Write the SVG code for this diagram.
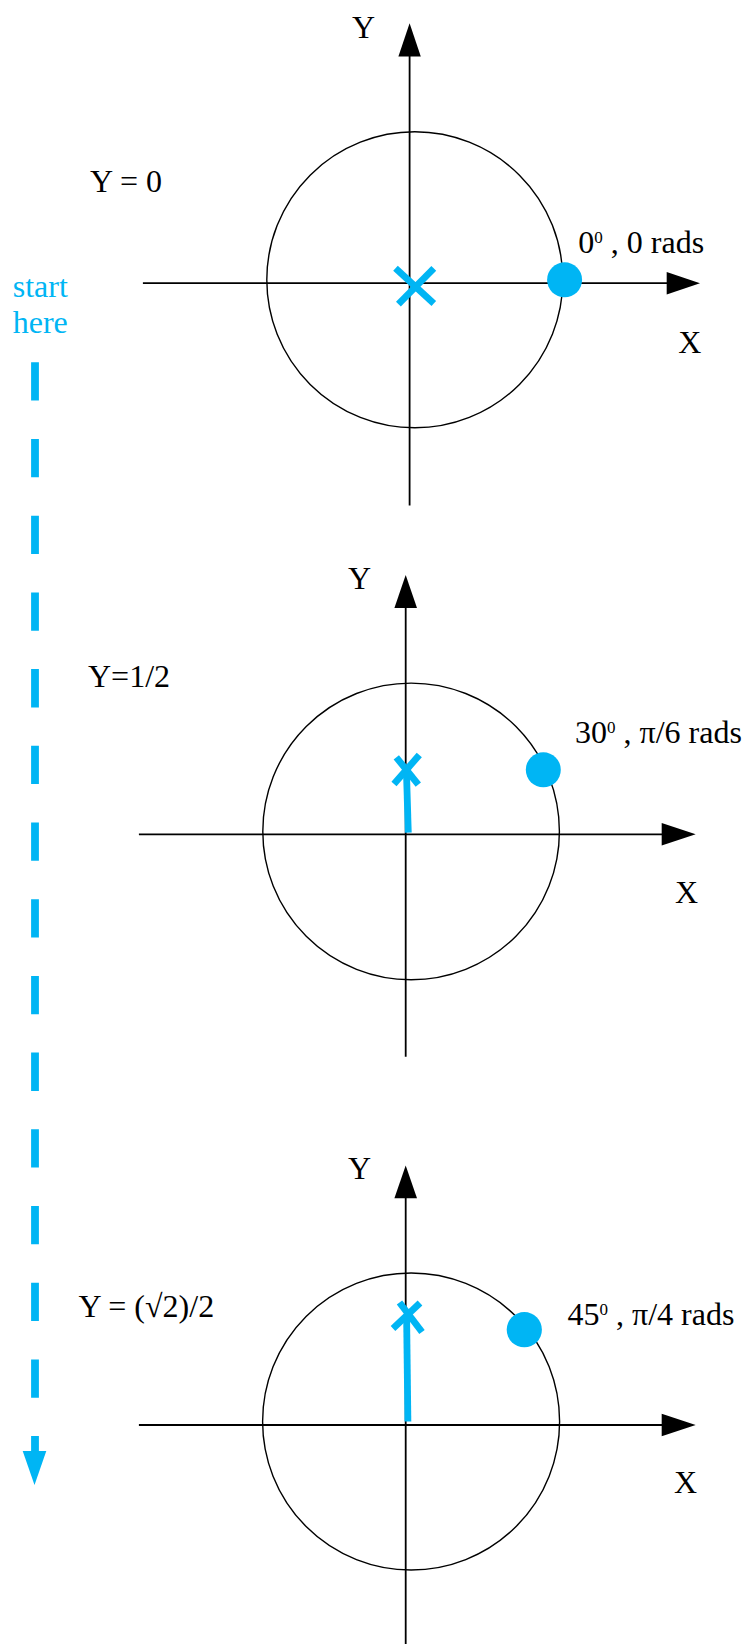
<svg xmlns="http://www.w3.org/2000/svg" width="746" height="1644" viewBox="0 0 746 1644">
<style>
  .t { font-family: "Liberation Serif", "Times New Roman", serif; font-size: 32px; fill: #000; }
  .tb { font-family: "Liberation Serif", "Times New Roman", serif; font-size: 32px; fill: #00B5F4; }
  .sup { font-size: 17px; }
  .axis { stroke: #000; stroke-width: 1.8; fill: none; }
  .circ { stroke: #000; stroke-width: 1.4; fill: none; }
  .head { fill: #000; stroke: none; }
  .mark { stroke: #00B5F4; stroke-width: 6.8; fill: none; stroke-linecap: butt; }
  .dot { fill: #00B5F4; stroke: none; }
</style>
<rect x="0" y="0" width="746" height="1644" fill="#fff"/>

<g id="panel1">
  <circle class="circ" cx="414.8" cy="279.8" r="148"/>
  <line class="axis" x1="409.6" y1="505.4" x2="409.6" y2="56"/>
  <polygon class="head" points="409.6,23.2 398.4,56.4 420.8,56.4"/>
  <line class="axis" x1="142.9" y1="283.2" x2="667" y2="283.2"/>
  <polygon class="head" points="700,283.2 666.7,271.9 666.7,294.5"/>
  <line class="mark" x1="395.5" y1="268.2" x2="433.8" y2="303.4"/>
  <line class="mark" x1="433.8" y1="268.4" x2="398.4" y2="304.1"/>
  <circle class="dot" cx="564.6" cy="279.8" r="17.5"/>
  <text class="t" x="352" y="37.5">Y</text>
  <text class="t" x="90" y="191.7">Y = 0</text>
  <text class="t" x="578.3" y="253.3">0<tspan class="sup" dy="-10">0</tspan><tspan dy="10"> , 0 rads</tspan></text>
  <text class="t" x="678.3" y="353.3">X</text>
</g>

<g id="panel2">
  <circle class="circ" cx="411.1" cy="831.4" r="148.3"/>
  <line class="axis" x1="405.7" y1="1056.8" x2="405.7" y2="607.5"/>
  <polygon class="head" points="405.7,575 394.4,607.9 417,607.9"/>
  <line class="axis" x1="138.9" y1="834.3" x2="662" y2="834.3"/>
  <polygon class="head" points="695.7,834.3 661.7,823 661.7,845.6"/>
  <line class="mark" x1="406.4" y1="770" x2="408.3" y2="832.7"/>
  <line class="mark" x1="396.3" y1="757.3" x2="418.3" y2="784.7"/>
  <line class="mark" x1="419.3" y1="755" x2="394" y2="784"/>
  <circle class="dot" cx="543.3" cy="769.8" r="17.5"/>
  <text class="t" x="348" y="588.9">Y</text>
  <text class="t" x="88" y="686.7">Y=1/2</text>
  <text class="t" x="575" y="743.3">30<tspan class="sup" dy="-10">0</tspan><tspan dy="10"> , π/6 rads</tspan></text>
  <text class="t" x="675" y="903.3">X</text>
</g>

<g id="panel3">
  <circle class="circ" cx="411.1" cy="1421.5" r="148.5"/>
  <line class="axis" x1="405.7" y1="1644" x2="405.7" y2="1198"/>
  <polygon class="head" points="405.7,1165.4 394.4,1198.3 417,1198.3"/>
  <line class="axis" x1="138.9" y1="1425" x2="662" y2="1425"/>
  <polygon class="head" points="695.7,1425 661.7,1413.7 661.7,1436.3"/>
  <line class="mark" x1="406.6" y1="1316" x2="407.9" y2="1421.5"/>
  <line class="mark" x1="399.5" y1="1302.5" x2="422" y2="1332"/>
  <line class="mark" x1="420" y1="1303" x2="393" y2="1328.5"/>
  <circle class="dot" cx="524.3" cy="1329.7" r="17.6"/>
  <text class="t" x="348" y="1178.6">Y</text>
  <text class="t" x="78.4" y="1316.7">Y = (√2)/2</text>
  <text class="t" x="567.5" y="1325">45<tspan class="sup" dy="-10">0</tspan><tspan dy="10"> , π/4 rads</tspan></text>
  <text class="t" x="674" y="1492.7">X</text>
</g>

<g id="start-label">
  <text class="tb" x="12.7" y="296.7">start</text>
  <text class="tb" x="12.7" y="333.3">here</text>
</g>

<g id="connectors">
  <line x1="35" y1="362.3" x2="35" y2="1451.5" stroke="#00B5F4" stroke-width="7.8" stroke-dasharray="38.3 38.4"/>
  <polygon points="34.5,1485 22.7,1451 46.3,1451" fill="#00B5F4"/>
</g>
</svg>
